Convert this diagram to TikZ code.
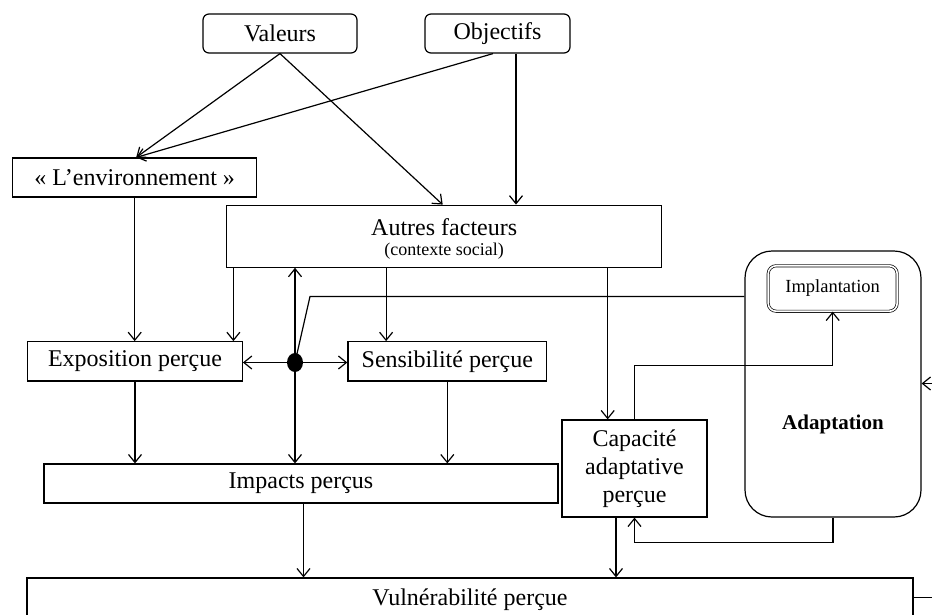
\documentclass[tikz,border=0pt]{standalone}
\usepackage{fontspec}
\setmainfont{Liberation Serif}
\usetikzlibrary{arrows.meta,calc,shapes.geometric}

\tikzset{
  box/.style={draw, line width=1.2pt, inner sep=0pt, align=center,
              font=\fontsize{24}{28}\selectfont},
  rbox/.style={box, rounded corners=6pt},
  arr/.style={line width=1.2pt, -{Straight Barb[length=8pt,width=13pt,line width=1.2pt]}},
  conn/.style={line width=1.2pt},
}

\begin{document}
\begin{tikzpicture}[x=1pt,y=-1pt]
  \clip (0,0) rectangle (932,614);
  \fill[white] (0,0) rectangle (932,614);

  % top row: values and objectives
  \node[rbox, minimum width=154, minimum height=39] (val) at (280,33.5) {Valeurs};
  \node[rbox, minimum width=145, minimum height=39] (obj) at (497.5,33.5) {Objectifs};

  % environment and other factors
  \node[box, minimum width=244, minimum height=39] (env) at (134.7,177.5) {«~L’environnement~»};
  \node[box, minimum width=435, minimum height=62] (aut) at (444.2,236.2) {};
  \node[font=\fontsize{24}{28}\selectfont, inner sep=0pt] (autt) at (444.2,227) {Autres facteurs};
  \node[font=\fontsize{18}{22}\selectfont, inner sep=0pt] (auts) at (444.2,251) {(contexte social)};

  % perceived exposure / sensitivity and the junction dot
  \node[box, minimum width=214.6, minimum height=39.3] (expo) at (135,361.4) {Exposition perçue};
  \node[box, minimum width=198.7, minimum height=39.3] (sens) at (447.3,361.4) {Sensibilité perçue};
  \node[ellipse, fill=black, minimum width=16, minimum height=19, inner sep=0pt] (dot) at (295,362.5) {};

  % impacts, adaptive capacity, vulnerability
  \node[box, minimum width=514, minimum height=39] (imp) at (301,483.5) {Impacts perçus};
  \node[box, minimum width=145, minimum height=97] (cap) at (634.5,468.5) {Capacité\\adaptative\\perçue};
  \node[box, minimum width=886, minimum height=44] (vul) at (470,600) {Vulnérabilité perçue};

  % adaptation block
  \node[draw, line width=1.2pt, rounded corners=27pt, minimum width=176, minimum height=266, inner sep=0pt] (adap) at (833,384) {};
  \node[draw, line width=0.7pt, double, double distance=1.6pt, rounded corners=8pt,
        minimum width=129, minimum height=45.5, inner sep=0pt,
        font=\fontsize{18.5}{22}\selectfont] (impl) at (832.7,288.5) {Implantation};
  \node[font=\fontsize{21}{25}\selectfont\bfseries, inner sep=0pt] (adapt) at (833,424) {Adaptation};

  % values and objectives feed the environment and the other factors
  \draw[arr] (val.south) -- ([xshift=1.5]env.north);
  \draw[arr] ([xshift=-4.5]obj.south) -- ([xshift=1.5]env.north);
  \draw[arr] (val.south) -- ([xshift=-1.5]aut.north);
  \draw[arr] ([xshift=18.5]obj.south) -- ([xshift=18.5]obj.south |- aut.north);

  % into exposure and sensitivity
  \draw[arr] (env.south) -- (env.south |- expo.north);
  \draw[arr] ([xshift=7.3]aut.south west) -- ([xshift=7.3]aut.south west |- expo.north);
  \draw[arr] ([xshift=160]aut.south west) -- ([xshift=160]aut.south west |- sens.north);
  \draw[arr] ([xshift=381.6]aut.south west) -- ([xshift=381.6]aut.south west |- cap.north);

  % junction dot
  \draw[arr] (dot.center) -- (dot.center |- aut.south);
  \draw[arr] (dot.center) -- (dot.center -| expo.east);
  \draw[arr] (dot.center) -- (dot.center -| sens.west);
  \draw[arr] (dot.center) -- (dot.center |- imp.north);
  \coordinate (kink) at (310,296.5);
  \draw[conn] (dot.center) -- (kink) -- (kink -| adap.west);

  % into impacts
  \draw[arr] (expo.south) -- (expo.south |- imp.north);
  \draw[arr] (sens.south) -- (sens.south |- imp.north);

  % into vulnerability
  \draw[arr] ([xshift=2.5]imp.south) -- ([xshift=2.5]imp.south |- vul.north);
  \draw[arr] ([xshift=-18.5]cap.south) -- ([xshift=-18.5]cap.south |- vul.north);

  % capacity <-> adaptation loops
  \draw[arr] (cap.north) |- ([yshift=-54]impl.south) -- (impl.south);
  \draw[arr] (adap.south) -- ([yshift=-25]adap.south) -| (cap.south);

  % feedback leaving on the right
  \coordinate (rout) at (932,597.5);
  \coordinate (rin) at (932,383.5);
  \draw[conn] (rout -| vul.east) -- (rout);
  \draw[arr] (rin) -- (rin -| adap.east);
\end{tikzpicture}
\end{document}
